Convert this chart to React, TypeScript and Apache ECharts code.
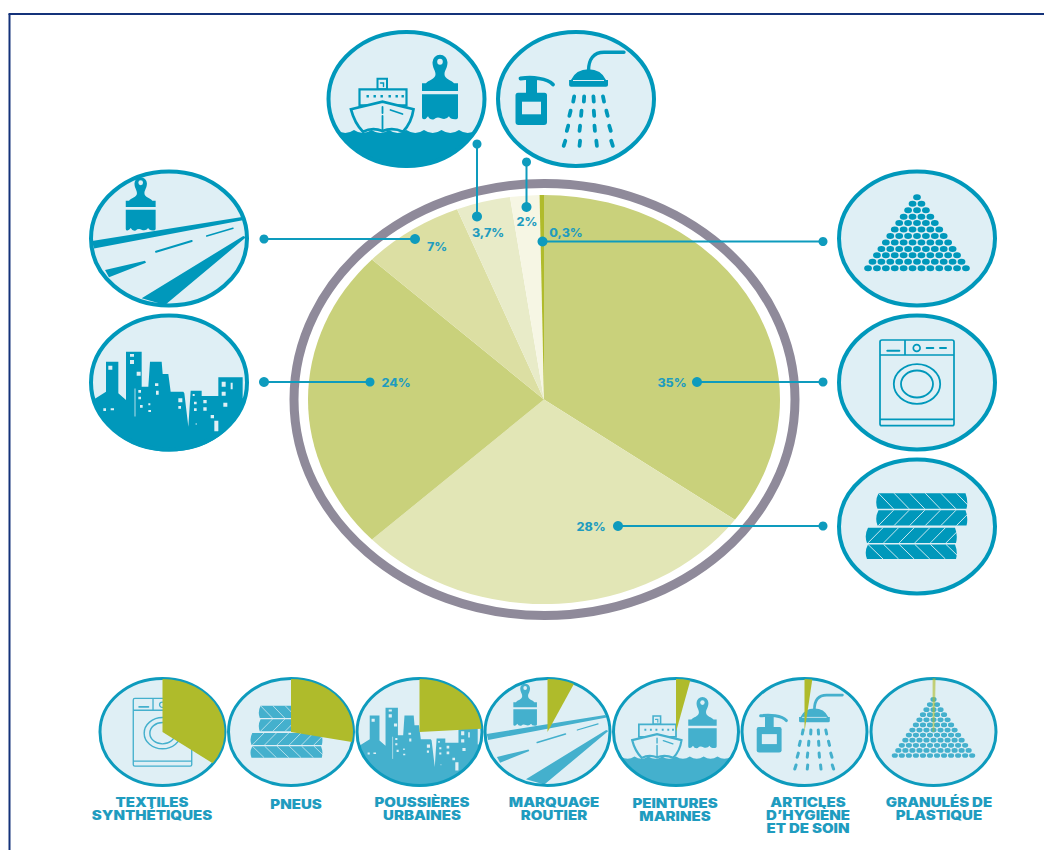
import React, { useEffect, useRef } from "react";
import * as echarts from "echarts";

// Sources of microplastics reaching the oceans, share of the total in percent.
const sourceNames = [
  "TEXTILES\nSYNTHÉTIQUES",
  "PNEUS",
  "POUSSIÈRES\nURBAINES",
  "MARQUAGE\nROUTIER",
  "PEINTURES\nMARINES",
  "ARTICLES\nD’HYGIÈNE\nET DE SOIN",
  "GRANULÉS DE\nPLASTIQUE",
];
const sourceShares = [35, 28, 24, 7, 3.7, 2, 0.3];
const sliceColors = ["#c9d17b", "#e2e6b6", "#c9d17b", "#dcdfa3", "#e8ebc8", "#f6f6e4", "#b0bb2c"];

const shareLabelPos = [
  [672, 383],
  [591, 527],
  [396, 383],
  [437, 247],
  [488, 233],
  [527, 222],
  [566, 233],
];
const nameLabelPos = [
  [152, 809],
  [296, 804.5],
  [422, 809],
  [554, 809],
  [675, 810],
  [808, 815.5],
  [939, 809],
];
const smallCenters = [
  [162.5, 732],
  [291, 732],
  [419.5, 732],
  [547.5, 732],
  [676, 732],
  [804.5, 732],
  [933.5, 732],
];
const bigIcons: [string, number, number][] = [
  ["washer", 917, 382.5],
  ["tyres", 917, 526.5],
  ["city", 169, 382.5],
  ["road", 169, 238.5],
  ["ship", 406.5, 99],
  ["soap", 576, 99],
  ["pellets", 917, 238.5],
];
const leaders = [
  [697, 382, 823, 382],
  [618, 526, 823, 526],
  [264, 382, 370, 382],
  [415, 239, 264, 239],
  [477, 216.5, 477, 144],
  [526.5, 207, 526.5, 162],
  [542.5, 241.5, 823, 241.5],
];

const PIE = { cx: 544, cy: 399.5, rx: 236, ry: 204.5 };
const SMALL_WEDGE = { rx: 62, ry: 53 };
const INK = "#0098bb";
const INK_SOFT = "#44b0cd";
const PAPER = "#dfeff5";
const LABEL = "#1f9cbf";
const FONT = "Inter, 'Open Sans', sans-serif";

type Layer = { d: string; mode: "ink" | "paper" | "line" | "paperLine" | "outline"; lw?: number };

const rect = (x: number, y: number, w: number, h: number) => `M${x} ${y}h${w}v${h}h${-w}Z `;
const oval = (cx: number, cy: number, rx: number, ry: number) =>
  `M${cx - rx} ${cy}A${rx} ${ry} 0 1 1 ${cx + rx} ${cy}A${rx} ${ry} 0 1 1 ${cx - rx} ${cy}Z `;
const poly = (pts: number[][]) =>
  "M" + pts.map((p) => `${+p[0].toFixed(2)} ${+p[1].toFixed(2)}`).join("L") + "Z ";
// Points noted on a 3x grid, offset to the icon's own centre.
const grid = (pts: number[][], ox: number, oy: number) => pts.map((p) => [p[0] / 3 - ox, p[1] / 3 - oy]);

function brush(ox: number, oy: number, k: number): Layer[] {
  const X = (v: number) => +(ox + v * k).toFixed(2);
  const Y = (v: number) => +(oy + v * k).toFixed(2);
  const body =
    `M${X(-7.5)} ${Y(-21)}A${7.5 * k} ${7.5 * k} 0 0 1 ${X(7.5)} ${Y(-21)}` +
    `C${X(7.5)} ${Y(-15)} ${X(4.5)} ${Y(-13)} ${X(4.5)} ${Y(-9)}C${X(4.5)} ${Y(-4)} ${X(12)} ${Y(-3)} ${X(14)} ${Y(0)}` +
    `L${X(18)} ${Y(0)}L${X(18)} ${Y(7.7)}L${X(-18)} ${Y(7.7)}L${X(-18)} ${Y(0)}L${X(-14)} ${Y(0)}` +
    `C${X(-12)} ${Y(-3)} ${X(-4.5)} ${Y(-4)} ${X(-4.5)} ${Y(-9)}C${X(-4.5)} ${Y(-13)} ${X(-7.5)} ${Y(-15)} ${X(-7.5)} ${Y(-21)}Z ` +
    `M${X(-18)} ${Y(11)}L${X(18)} ${Y(11)}L${X(18)} ${Y(34)}Q${X(18)} ${Y(36)} ${X(15)} ${Y(36)}Q${X(10)} ${Y(36)} ${X(9)} ${Y(33)}` +
    `Q${X(6)} ${Y(37)} ${X(1)} ${Y(35)}Q${X(-3)} ${Y(33)} ${X(-6)} ${Y(36)}Q${X(-10)} ${Y(37)} ${X(-12)} ${Y(33)}Q${X(-14)} ${Y(36)} ${X(-16)} ${Y(36)}Q${X(-18)} ${Y(36)} ${X(-18)} ${Y(34)}Z`;
  return [
    { d: body, mode: "ink" },
    { d: oval(X(0), Y(-21.5), 2.8 * k, 3 * k), mode: "paper" },
  ];
}

function seaPath() {
  let d = "M-70 31";
  const step = 17.5;
  for (let i = 0; i < 8; i++) {
    const x = -70 + i * step;
    d += `Q${x + step / 2} 37 ${x + step} 31`;
  }
  return d + "A78 67 0 0 1 -70 31Z";
}

function shipLayers(): Layer[] {
  const dots = [-40, -33, -26, -18, -11, -5].map((x) => rect(x, -4, 2.4, 2.4)).join("");
  return [
    { d: seaPath(), mode: "ink" },
    { d: rect(-29, -20.3, 9.5, 10.6), mode: "outline", lw: 2 },
    { d: "M-26 -16H-23V-12.5", mode: "line", lw: 1.4 },
    { d: rect(-47, -9.7, 47, 16), mode: "outline", lw: 2.2 },
    { d: dots, mode: "ink" },
    {
      d: "M-55.5 10.3L-24 2.7L7 10.3Q5 24 -3.5 32.7Q-14 28 -24 32Q-34 28 -43.5 32.7Q-52 24 -55.5 10.3Z",
      mode: "outline",
      lw: 2.7,
    },
    { d: "M-24 8V14M-24 17V32M-16 11L-4 15", mode: "line", lw: 1.8 },
    ...brush(33.5, -15.7, 1),
  ];
}

function soapLayers(): Layer[] {
  const rows = [
    [0, -2.3, 8, 17.6, 27.5],
    [14.3, -6, 5.3, 18, 31],
    [29.3, -8.5, 3.8, 18.7, 34],
    [44.3, -11.5, 3.8, 20.6, 36],
  ];
  let drops = "";
  rows.forEach((r) => {
    r.slice(1).forEach((x) => {
      const t = (x - 12) * 0.035;
      drops += `M${+(x - t).toFixed(2)} ${r[0] - 2.6}L${+(x + t).toFixed(2)} ${r[0] + 2.6} `;
    });
  });
  return [
    {
      d: "M-58 -6.3H-31.5Q-29 -6.3 -29 -3.5V23Q-29 26 -32 26H-57.5Q-60.5 26 -60.5 23V-3.5Q-60.5 -6.3 -58 -6.3Z",
      mode: "ink",
    },
    { d: rect(-50, -20, 11, 14), mode: "ink" },
    { d: "M-55.5 -20.5Q-46 -22 -37 -20.5Q-27 -19 -23 -14.5", mode: "line", lw: 3.8 },
    { d: rect(-54, 2.7, 19, 12.6), mode: "paper" },
    {
      d: "M-5 -19Q0 -29.7 12.5 -29.7Q25 -29.7 30 -19H32V-14Q32 -12.3 30 -12.3H-5Q-6.9 -12.3 -6.9 -14V-19Z",
      mode: "ink",
    },
    { d: "M-3 -18.5H28", mode: "paperLine", lw: 1 },
    { d: "M12.5 -28C12.5 -40 18 -46.7 28 -46.7H48", mode: "line", lw: 3.4 },
    { d: drops, mode: "line", lw: 3.8 },
  ];
}

function roadLayers(): Layer[] {
  return [
    ...brush(-28.3, -37.8, 0.83),
    {
      d:
        poly([[-77, 2.5], [73, -21.5], [75, -18.5], [-75, 10]]) +
        poly([[-64, 31.5], [-24, 22.2], [-23, 24.2], [-60, 38.8]]) +
        poly([[-27.3, 59.8], [-4, 66.5], [77, -1.2], [74.3, -2.5]]),
      mode: "ink",
    },
    { d: "M-13 13.2L22.7 2.5", mode: "line", lw: 2 },
    { d: "M37.7 -2.5L64 -10.2", mode: "line", lw: 1.5 },
  ];
}

function cityLayers(): Layer[] {
  const skyline = [
    [40, 719], [78, 695], [78, 605], [115, 605], [115, 700], [138, 720], [138, 575], [185, 575], [185, 680],
    [205, 680], [210, 605], [245, 605], [248, 642], [265, 642], [272, 695], [310, 695], [313, 700], [325, 800],
    [332, 692], [365, 692], [365, 708], [415, 708], [415, 652], [488, 652], [488, 715], [497, 715],
  ];
  const pts = grid(skyline, 89, 222.5);
  const outline =
    "M" + pts.map((p) => `${+p[0].toFixed(2)} ${+p[1].toFixed(2)}`).join("L") + "A78 67 0 0 1 -75.7 17Z";
  const holes = [
    [85, 617, 12, 12], [150, 582, 12, 8], [150, 600, 12, 12], [170, 635, 12, 12], [175, 690, 8, 8],
    [175, 710, 8, 8], [180, 735, 8, 8], [205, 730, 6, 6], [205, 750, 8, 6], [225, 670, 10, 8], [228, 692, 8, 12],
    [295, 715, 12, 12], [295, 738, 8, 8], [338, 702, 6, 6], [342, 725, 8, 8], [342, 745, 8, 8], [370, 720, 10, 10],
    [370, 742, 10, 10], [392, 765, 10, 10], [403, 782, 12, 32], [425, 665, 12, 15], [452, 668, 6, 20],
    [425, 695, 12, 12], [430, 728, 12, 12], [70, 745, 8, 8], [92, 745, 10, 6], [347, 790, 3, 4],
  ];
  const knock = holes.map((h) => rect(+(h[0] / 3 - 89).toFixed(2), +(h[1] / 3 - 222.5).toFixed(2), +(h[2] / 3).toFixed(2), +(h[3] / 3).toFixed(2))).join("");
  return [
    { d: outline, mode: "ink" },
    { d: knock, mode: "paper" },
    { d: "M-34 6V34", mode: "paperLine", lw: 0.8 },
  ];
}

function pelletLayers(): Layer[] {
  let d = "";
  for (let row = 0; row < 12; row++) {
    const y = -41.2 + row * 6.45;
    for (let i = 0; i <= row; i++) {
      d += oval(+((i - row / 2) * 8.9).toFixed(2), +y.toFixed(2), 3.9, 3);
    }
  }
  return [{ d, mode: "ink" }];
}

function washerLayers(): Layer[] {
  return [
    {
      d:
        "M-35 -42.5H35Q37 -42.5 37 -40.5V41.5Q37 43.2 35 43.2H-35Q-37 43.2 -37 41.5V-40.5Q-37 -42.5 -35 -42.5Z" +
        "M-37 -27.5H37M-12 -42.5V-27.5M-37 36.8H37",
      mode: "line",
      lw: 1.7,
    },
    { d: "M-29.7 -31.8H-17.7M9.7 -34.5H16.3M23 -34.5H29", mode: "line", lw: 2 },
    { d: oval(-0.3, -34.5, 3.4, 3.4), mode: "line", lw: 1.7 },
    { d: oval(0, 1.5, 23.2, 19.8) + oval(0, 1.5, 16, 13.5), mode: "line", lw: 1.8 },
  ];
}

function tyreLayers(): Layer[] {
  const half = (l: number, t: number, h: number) =>
    `M${l + 3} ${t}H${l + 90}Q${l + 93} ${t + h / 2} ${l + 91} ${t + h}H${l + 2}Q${l - 1} ${t + h / 2} ${l + 3} ${t}Z `;
  const slashes = (l: number, t: number, h: number, back: boolean) => {
    let s = "";
    for (let i = 0; i < 6; i++) {
      const a = l + 3 + i * 15.6;
      s += back ? `M${a} ${t}L${a + 15} ${t + h} ` : `M${a} ${t + h}L${a + 15} ${t} `;
    }
    return s;
  };
  return [
    { d: half(-41.5, -33.2, 15.5) + half(-41.5, -16.2, 15.2) + half(-52, 1.2, 15.2) + half(-52, 17.9, 14.6), mode: "ink" },
    {
      d:
        slashes(-41.5, -33.2, 15.5, true) +
        slashes(-41.5, -16.2, 15.2, false) +
        slashes(-52, 1.2, 15.2, false) +
        slashes(-52, 17.9, 14.6, true),
      mode: "paperLine",
      lw: 0.9,
    },
  ];
}

const iconLayers: Record<string, Layer[]> = {
  washer: washerLayers(),
  tyres: tyreLayers(),
  city: cityLayers(),
  road: roadLayers(),
  ship: shipLayers(),
  soap: soapLayers(),
  pellets: pelletLayers(),
};
const iconOrder = ["washer", "tyres", "city", "road", "ship", "soap", "pellets"];

Object.keys(iconLayers).forEach((name) => {
  iconLayers[name].forEach((layer, i) => {
    echarts.graphic.registerShape(`${name}_${i}`, echarts.graphic.extendPath(layer.d, {}) as any);
  });
});

function layerStyle(layer: Layer, ink: string) {
  const lw = layer.lw ?? 1;
  switch (layer.mode) {
    case "ink":
      return { fill: ink };
    case "paper":
      return { fill: PAPER };
    case "line":
      return { fill: "none", stroke: ink, lineWidth: lw, lineCap: "round" };
    case "paperLine":
      return { fill: "none", stroke: PAPER, lineWidth: lw };
    default:
      return { fill: PAPER, stroke: ink, lineWidth: lw };
  }
}

// A medallion: pale disc, pictogram on top of it, then the ring that hides the pictogram's ends.
function medallion(name: string, cx: number, cy: number, k: number, ink: string, ringInk: string, ringWidth: number, z: number) {
  const rx = k === 1 ? 78 : 62.5;
  const ry = k === 1 ? 67 : 53.5;
  const out: any[] = [{ type: "ellipse", z, shape: { cx, cy, rx, ry }, style: { fill: PAPER } }];
  iconLayers[name].forEach((layer, i) => {
    out.push({
      type: `${name}_${i}`,
      x: cx,
      y: cy,
      scaleX: k,
      scaleY: k,
      z,
      style: layerStyle(layer, ink),
    });
  });
  out.push({ type: "ellipse", z, shape: { cx, cy, rx, ry }, style: { fill: "none", stroke: ringInk, lineWidth: ringWidth } });
  return out;
}

const shareText = (v: number) => `${String(v).replace(".", ",")}%`;

function buildOption() {
  const total = sourceShares.reduce((a, b) => a + b, 0);
  const startFrac = sourceShares.map((_, i) => sourceShares.slice(0, i).reduce((a, b) => a + b, 0) / total);

  const elements: any[] = [
    { type: "line", z: 0, shape: { x1: 8.5, y1: 14, x2: 1044, y2: 14 }, style: { stroke: "#14327a", lineWidth: 2 } },
    { type: "line", z: 0, shape: { x1: 9.5, y1: 14, x2: 9.5, y2: 850 }, style: { stroke: "#14327a", lineWidth: 2 } },
    {
      type: "ellipse",
      z: 0,
      shape: { cx: 544.5, cy: 399.5, rx: 250.5, ry: 216 },
      style: { fill: "none", stroke: "#8f8a9a", lineWidth: 9 },
    },
  ];

  bigIcons.forEach(([name, cx, cy]) => {
    elements.push(...medallion(name, cx, cy, 1, INK, INK, 4, 1));
  });
  smallCenters.forEach(([cx, cy], i) => {
    elements.push(...medallion(iconOrder[i], cx, cy, 0.79, INK_SOFT, "#0e9bbd", 3, 1));
  });

  leaders.forEach(([x1, y1, x2, y2]) => {
    elements.push({ type: "line", z: 10, shape: { x1, y1, x2, y2 }, style: { stroke: "#0e9bbd", lineWidth: 2 } });
    elements.push({ type: "circle", z: 10, shape: { cx: x1, cy: y1, r: 5 }, style: { fill: "#0e9bbd" } });
    elements.push({ type: "circle", z: 10, shape: { cx: x2, cy: y2, r: 4.5 }, style: { fill: "#0e9bbd" } });
  });

  sourceShares.forEach((v, i) => {
    elements.push({
      type: "text",
      z: 11,
      x: shareLabelPos[i][0],
      y: shareLabelPos[i][1],
      scaleY: 0.9,
      style: {
        text: shareText(v),
        fill: LABEL,
        fontFamily: FONT,
        fontWeight: 800,
        fontSize: 12.5,
        align: "center",
        verticalAlign: "middle",
        textAlign: "center",
        textVerticalAlign: "middle",
      },
    });
  });

  sourceNames.forEach((label, i) => {
    elements.push({
      type: "text",
      z: 11,
      x: nameLabelPos[i][0],
      y: nameLabelPos[i][1],
      scaleY: 0.84,
      style: {
        text: label,
        fill: LABEL,
        fontFamily: FONT,
        fontWeight: 900,
        fontSize: 15,
        lineHeight: 15.5,
        align: "center",
        verticalAlign: "middle",
        textAlign: "center",
        textVerticalAlign: "middle",
      },
    });
  });

  const sliceAngle = (frac: number) => -Math.PI / 2 + frac * Math.PI * 2;

  return {
    animation: false,
    backgroundColor: "#ffffff",
    graphic: { elements },
    series: [
      {
        type: "custom",
        coordinateSystem: "none",
        silent: true,
        z: 2,
        data: sourceShares.map((v) => [v]),
        renderItem: (params: any, api: any) => {
          const i = params.dataIndex;
          const frac = api.value(0) / total;
          return {
            type: "sector",
            x: PIE.cx,
            y: PIE.cy,
            scaleY: PIE.ry / PIE.rx,
            shape: {
              cx: 0,
              cy: 0,
              r0: 0,
              r: PIE.rx,
              startAngle: sliceAngle(startFrac[i]),
              endAngle: sliceAngle(startFrac[i] + frac),
              clockwise: true,
            },
            style: { fill: sliceColors[i] },
          };
        },
      },
      {
        // Each medallion in the bottom row carries its own share as a wedge from twelve o'clock.
        type: "custom",
        coordinateSystem: "none",
        silent: true,
        z: 5,
        data: sourceShares.map((v) => [v]),
        renderItem: (params: any, api: any) => {
          const i = params.dataIndex;
          const frac = api.value(0) / total;
          const thin = frac < 0.01;
          return {
            type: "sector",
            x: smallCenters[i][0],
            y: smallCenters[i][1],
            scaleY: SMALL_WEDGE.ry / SMALL_WEDGE.rx,
            shape: {
              cx: 0,
              cy: 0,
              r0: 0,
              r: SMALL_WEDGE.rx,
              startAngle: sliceAngle(0),
              endAngle: sliceAngle(frac),
              clockwise: true,
            },
            style: thin
              ? { fill: "#afbb2b", stroke: "#afbb2b", lineWidth: 2, opacity: 0.5 }
              : { fill: "#afbb2b" },
          };
        },
      },
    ],
  };
}

export default function App() {
  const ref = useRef<HTMLDivElement>(null);
  useEffect(() => {
    document.body.style.margin = "0";
    const chart = echarts.init(ref.current!, null, { renderer: "svg" });
    chart.setOption(buildOption() as any);
    return () => chart.dispose();
  }, []);
  return <div ref={ref} style={{ width: 1044, height: 850, overflow: "hidden" }} />;
}
